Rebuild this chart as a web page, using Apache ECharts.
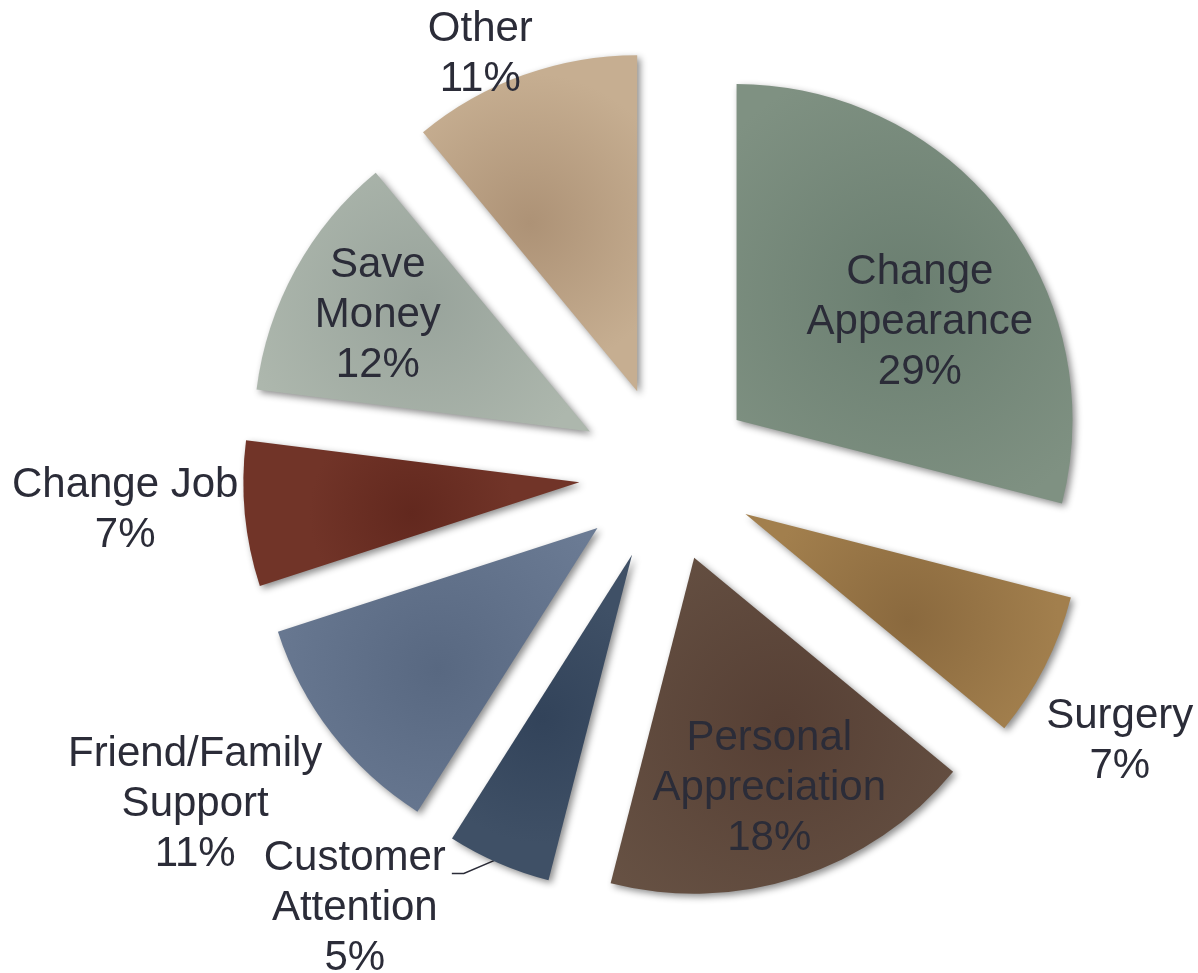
<!DOCTYPE html>
<html>
<head>
<meta charset="utf-8">
<script src="https://cdn.jsdelivr.net/npm/echarts@6/dist/echarts.min.js"></script>
<style>
  html, body { margin: 0; padding: 0; background: #fff; }
  #chart { width: 1198px; height: 973px; }
</style>
</head>
<body>
<div id="chart"></div>
<script>
// data
const categories = ['Change Appearance', 'Surgery', 'Personal Appreciation', 'Customer Attention',
                    'Friend/Family Support', 'Change Job', 'Save Money', 'Other'];
const shares = [29, 7, 18, 5, 11, 7, 12, 11];
const labelNames = ['Change\nAppearance', 'Surgery', 'Personal\nAppreciation', 'Customer\nAttention',
                    'Friend/Family\nSupport', 'Change Job', 'Save\nMoney', 'Other'];

// styles
const innerColors = ['#6a7e70', '#8a693e', '#563f34', '#32435a', '#586881', '#62281e', '#98a39b', '#ad9276'];
const outerColors = ['#7f9182', '#a27f4d', '#675244', '#3f5066', '#6b7b94', '#713428', '#adb7ad', '#c6ae91'];
// label placement: distance from pie center and small turn from the slice bisector (deg)
const labelRadius = [295, 526, 331, 535, 576, 543, 330, 459];
const labelTurn = [6.8, 3.6, 0, 12.3, 2.8, 1.6, 0, -4.2];

const pieCenter = [667, 474];
const pieRadius = 336;
const explode = 88;
const textColor = '#2b2c38';
const lineHeight = 50;

const total = shares.reduce((a, b) => a + b, 0);

function midAngle(i) {
  let before = 0;
  for (let k = 0; k < i; k++) before += shares[k];
  return (before + shares[i] / 2) / total * 360;
}

function polar(r, deg) {
  const a = deg * Math.PI / 180;
  return [pieCenter[0] + r * Math.sin(a), pieCenter[1] - r * Math.cos(a)];
}

const chart = echarts.init(document.getElementById('chart'));

// exploded, shaded slices
const sliceData = categories.map((name, i) => ({
  name: name,
  value: shares[i],
  selected: true,
  itemStyle: {
    color: {
      type: 'radial', x: 0.5, y: 0.5, r: 0.7,
      colorStops: [
        { offset: 0, color: innerColors[i] },
        { offset: 1, color: outerColors[i] }
      ]
    }
  }
}));

// invisible twin that only carries the labels
const labelData = categories.map((name, i) => {
  const item = { name: name, value: shares[i] };
  if (name === 'Customer Attention') {
    item.label = { position: 'outside' };
    item.labelLine = { show: true, lineStyle: { color: textColor, width: 1.5 } };
  }
  return item;
});

chart.setOption({
  animation: false,
  series: [{
    type: 'pie',
    center: pieCenter,
    radius: [0, pieRadius],
    startAngle: 90,
    clockwise: true,
    selectedMode: 'multiple',
    selectedOffset: explode,
    emphasis: { disabled: true },
    itemStyle: {
      shadowBlur: 7,
      shadowOffsetX: 3,
      shadowOffsetY: 3,
      shadowColor: 'rgba(0,0,0,0.45)'
    },
    label: { show: false },
    labelLine: { show: false },
    data: sliceData
  }, {
    type: 'pie',
    center: pieCenter,
    radius: [0, pieRadius + explode],
    startAngle: 90,
    clockwise: true,
    silent: true,
    avoidLabelOverlap: false,
    emphasis: { disabled: true },
    itemStyle: { color: 'rgba(0,0,0,0)' },
    label: {
      show: true,
      position: 'inside',
      formatter: p => labelNames[p.dataIndex] + '\n' + p.value + '%',
      fontFamily: 'Liberation Sans, Arial, sans-serif',
      fontSize: 42,
      lineHeight: lineHeight,
      color: textColor,
      align: 'center'
    },
    labelLine: { show: false },
    labelLayout: function (params) {
      const i = params.dataIndex;
      const pos = polar(labelRadius[i], midAngle(i) + labelTurn[i]);
      const out = { x: pos[0], y: pos[1], align: 'center', verticalAlign: 'middle' };
      if (categories[i] === 'Customer Attention') {
        // leader from the exploded slice's rim to the end of the first text line
        const rim = polar(explode + pieRadius - 6, midAngle(i));
        const endX = pos[0] + params.labelRect.width / 2 + 6;
        const endY = pos[1] - params.labelRect.height / 2 + lineHeight * 0.8;
        out.labelLinePoints = [rim, [endX + 12, endY], [endX, endY]];
      }
      return out;
    },
    data: labelData
  }]
});
</script>
</body>
</html>
